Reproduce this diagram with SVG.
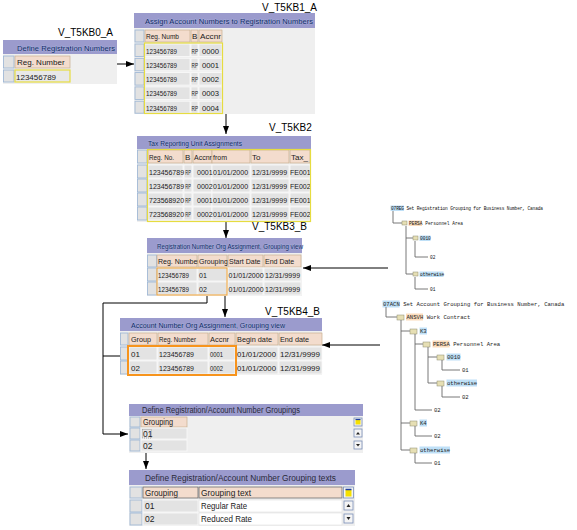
<svg xmlns="http://www.w3.org/2000/svg" width="577" height="530" viewBox="0 0 577 530">
<defs>
<marker id="ah" markerWidth="8" markerHeight="6" refX="8" refY="3" orient="auto" markerUnits="userSpaceOnUse"><path d="M0,0 L8,3 L0,6 z" fill="#000"/></marker>
<style>
.tt{fill:#9b9bcd}
.ttx{font-family:"Liberation Sans",Arial,sans-serif;font-size:8px;fill:#0c2260;stroke:#bcd0f0;stroke-width:0.35;paint-order:stroke}
.ttg{font-family:"Liberation Sans",Arial,sans-serif;font-size:8.5px;fill:#2a2a3a}
.bg{fill:#efefef}
.sel{fill:#e2e2e2;stroke:#9ab4d4;stroke-width:0.8}
.hd{fill:#f3dccd;stroke:#c8b090;stroke-width:0.7}
.hd2{fill:#f3dccd;stroke:#6e6e6e;stroke-width:0.8}
.dc{fill:#e3e3e3;stroke:#fafafa;stroke-width:0.8}
.wc{fill:#ffffff;stroke:#e0e0e0;stroke-width:0.6}
.tx{font-family:"Liberation Sans",Arial,sans-serif;font-size:8px;fill:#1a1a1a}
.t7{font-family:"Liberation Sans",Arial,sans-serif;font-size:7px;fill:#1a1a1a}
.tx2{font-family:"Liberation Sans",Arial,sans-serif;font-size:8.5px;fill:#222}
.lbl{font-family:"Liberation Sans",Arial,sans-serif;font-size:10px;fill:#000}
.conn{stroke:#000;stroke-width:1;fill:none}
.tl{stroke:#6a6a6a;stroke-width:0.9;fill:none}
.m1{font-family:"Liberation Mono",monospace;font-size:4.5px;fill:#111}
.m2{font-family:"Liberation Mono",monospace;font-size:5.6px;fill:#222}
.hb{fill:#bfe0f7}
.hp{fill:#fbdcbc}
.ic{fill:#e6dfb4;stroke:#8c8a70;stroke-width:0.5}
.btn{fill:#f4f4f4;stroke:#7a8fb8;stroke-width:0.8}
.yb{fill:none;stroke:#e6dc40;stroke-width:1.2}
</style>
</defs>

<g id="connectors">
<line class="conn" x1="117" y1="64" x2="134" y2="64" marker-end="url(#ah)"/>
<line class="conn" x1="226" y1="114" x2="226" y2="134" marker-end="url(#ah)"/>
<line class="conn" x1="226" y1="222" x2="226" y2="238" marker-end="url(#ah)"/>
<line class="conn" x1="388" y1="268" x2="303" y2="268" stroke="#666" marker-end="url(#ah)"/>
<line class="conn" x1="225" y1="296" x2="225" y2="317" marker-end="url(#ah)"/>
<path class="conn" d="M207,296 V303 H103 V434 H128" marker-end="url(#ah)"/>
<line class="conn" x1="103" y1="356" x2="120" y2="356"/>
<line class="conn" x1="380" y1="345" x2="322" y2="345" marker-end="url(#ah)"/>
<line class="conn" x1="146" y1="452" x2="146" y2="469" marker-end="url(#ah)"/>
</g>

<g id="V_T5KB0_A">
<text class="lbl" x="58" y="36">V_T5KB0_A</text>
<rect class="tt" x="3" y="40" width="114" height="14"/>
<text class="ttx" x="17" y="50.5" textLength="98" lengthAdjust="spacingAndGlyphs">Define Registration Numbers</text>
<rect class="bg" x="3" y="54" width="114" height="30"/>
<rect class="sel" x="3.5" y="56" width="10.5" height="12"/>
<rect class="sel" x="3.5" y="70" width="10.5" height="12"/>
<rect class="hd" x="15" y="56" width="55" height="12" stroke="#e0b060"/>
<text class="tx" x="17" y="65">Reg. Number</text>
<rect x="15" y="70" width="55" height="12" fill="#e8e8e8" stroke="#e6dc40" stroke-width="1.2"/>
<text class="tx" x="16" y="79.5">123456789</text>
</g>

<g id="V_T5KB1_A">
<text class="lbl" x="262" y="11">V_T5KB1_A</text>
<rect class="tt" x="134" y="13" width="181" height="15"/>
<text class="ttx" x="145" y="24" textLength="168" lengthAdjust="spacingAndGlyphs">Assign Account Numbers to Registration Numbers</text>
<rect class="bg" x="134" y="28" width="181" height="86"/>
<rect class="sel" x="135" y="30" width="9" height="12"/>
<rect class="hd" x="145" y="30" width="45" height="12"/><text class="tx" x="146" y="39" textLength="33" lengthAdjust="spacingAndGlyphs">Reg. Numb</text>
<rect class="hd" x="191" y="30" width="7" height="12"/><text class="tx" x="192" y="39">B</text>
<rect class="hd" x="199" y="30" width="23" height="12"/><text class="tx" x="200" y="39" textLength="21" lengthAdjust="spacingAndGlyphs">Accnr</text>
<g>
<rect class="sel" x="135" y="44" width="9" height="12.5"/><rect class="dc" x="145" y="44" width="45" height="12.5"/><rect class="dc" x="191" y="44" width="7" height="12.5"/><rect class="dc" x="199" y="44" width="23" height="12.5"/>
<text class="tx" x="146" y="53.5" textLength="31" lengthAdjust="spacingAndGlyphs">123456789</text><text class="t7" x="191.5" y="53.5" textLength="6.5" lengthAdjust="spacingAndGlyphs">RP</text><text class="tx" x="202" y="53.5" textLength="17" lengthAdjust="spacingAndGlyphs">0000</text>
<rect class="sel" x="135" y="58.3" width="9" height="12.5"/><rect class="dc" x="145" y="58.3" width="45" height="12.5"/><rect class="dc" x="191" y="58.3" width="7" height="12.5"/><rect class="dc" x="199" y="58.3" width="23" height="12.5"/>
<text class="tx" x="146" y="67.8" textLength="31" lengthAdjust="spacingAndGlyphs">123456789</text><text class="t7" x="191.5" y="67.8" textLength="6.5" lengthAdjust="spacingAndGlyphs">RP</text><text class="tx" x="202" y="67.8" textLength="17" lengthAdjust="spacingAndGlyphs">0001</text>
<rect class="sel" x="135" y="72.6" width="9" height="12.5"/><rect class="dc" x="145" y="72.6" width="45" height="12.5"/><rect class="dc" x="191" y="72.6" width="7" height="12.5"/><rect class="dc" x="199" y="72.6" width="23" height="12.5"/>
<text class="tx" x="146" y="82.1" textLength="31" lengthAdjust="spacingAndGlyphs">123456789</text><text class="t7" x="191.5" y="82.1" textLength="6.5" lengthAdjust="spacingAndGlyphs">RP</text><text class="tx" x="202" y="82.1" textLength="17" lengthAdjust="spacingAndGlyphs">0002</text>
<rect class="sel" x="135" y="86.9" width="9" height="12.5"/><rect class="dc" x="145" y="86.9" width="45" height="12.5"/><rect class="dc" x="191" y="86.9" width="7" height="12.5"/><rect class="dc" x="199" y="86.9" width="23" height="12.5"/>
<text class="tx" x="146" y="96.4" textLength="31" lengthAdjust="spacingAndGlyphs">123456789</text><text class="t7" x="191.5" y="96.4" textLength="6.5" lengthAdjust="spacingAndGlyphs">RP</text><text class="tx" x="202" y="96.4" textLength="17" lengthAdjust="spacingAndGlyphs">0003</text>
<rect class="sel" x="135" y="101.2" width="9" height="12"/><rect class="dc" x="145" y="101.2" width="45" height="12"/><rect class="dc" x="191" y="101.2" width="7" height="12"/><rect class="dc" x="199" y="101.2" width="23" height="12"/>
<text class="tx" x="146" y="110.5" textLength="31" lengthAdjust="spacingAndGlyphs">123456789</text><text class="t7" x="191.5" y="110.5" textLength="6.5" lengthAdjust="spacingAndGlyphs">RP</text><text class="tx" x="202" y="110.5" textLength="17" lengthAdjust="spacingAndGlyphs">0004</text>
</g>
<rect class="yb" x="144.5" y="43" width="78" height="70.5"/>
</g>

<g id="V_T5KB2">
<text class="lbl" x="269" y="131">V_T5KB2</text>
<rect class="tt" x="137" y="136" width="174" height="13"/>
<text class="ttx" x="148" y="145.5" textLength="94" lengthAdjust="spacingAndGlyphs">Tax Reporting Unit Assignments</text>
<rect class="bg" x="137" y="149" width="174" height="73"/>
<rect class="sel" x="137.5" y="150" width="9.5" height="13"/>
<rect class="hd" x="148" y="150" width="35" height="13"/><text class="tx" x="149" y="159.5" textLength="25" lengthAdjust="spacingAndGlyphs">Reg. No.</text>
<rect class="hd" x="184" y="150" width="8" height="13"/><text class="tx" x="185" y="159.5">B</text>
<rect class="hd" x="193" y="150" width="19" height="13"/><text class="t7" x="194" y="159.5">Accnr</text>
<rect class="hd" x="212" y="150" width="38" height="13"/><text class="tx" x="213" y="159.5" textLength="14" lengthAdjust="spacingAndGlyphs">from</text>
<rect class="hd" x="251" y="150" width="38" height="13"/><text class="tx" x="252" y="159.5">To</text>
<rect class="hd" x="290" y="150" width="20" height="13"/><text class="tx" x="291" y="159.5" textLength="17" lengthAdjust="spacingAndGlyphs">Tax_</text>
<g>
<rect class="sel" x="137.5" y="165" width="9.5" height="13"/><rect class="dc" x="148" y="165" width="35" height="13"/><rect class="dc" x="184" y="165" width="8" height="13"/><rect class="dc" x="193" y="165" width="19" height="13"/><rect class="dc" x="212" y="165" width="38" height="13"/><rect class="dc" x="251" y="165" width="38" height="13"/><rect class="dc" x="290" y="165" width="20" height="13"/>
<text class="t7" x="149" y="174.5">123456789</text><text class="t7" x="185.3" y="174.5" textLength="5.5" lengthAdjust="spacingAndGlyphs">RP</text><text class="t7" x="197" y="174.5">0001</text><text class="t7" x="213" y="174.5">01/01/2000</text><text class="t7" x="252" y="174.5">12/31/9999</text><text class="t7" x="290" y="174.5">FE001</text>
<rect class="sel" x="137.5" y="179" width="9.5" height="13"/><rect class="dc" x="148" y="179" width="35" height="13"/><rect class="dc" x="184" y="179" width="8" height="13"/><rect class="dc" x="193" y="179" width="19" height="13"/><rect class="dc" x="212" y="179" width="38" height="13"/><rect class="dc" x="251" y="179" width="38" height="13"/><rect class="dc" x="290" y="179" width="20" height="13"/>
<text class="t7" x="149" y="188.5">123456789</text><text class="t7" x="185.3" y="188.5" textLength="5.5" lengthAdjust="spacingAndGlyphs">RP</text><text class="t7" x="197" y="188.5">0002</text><text class="t7" x="213" y="188.5">01/01/2000</text><text class="t7" x="252" y="188.5">12/31/9999</text><text class="t7" x="290" y="188.5">FE002</text>
<rect class="sel" x="137.5" y="193" width="9.5" height="13"/><rect class="dc" x="148" y="193" width="35" height="13"/><rect class="dc" x="184" y="193" width="8" height="13"/><rect class="dc" x="193" y="193" width="19" height="13"/><rect class="dc" x="212" y="193" width="38" height="13"/><rect class="dc" x="251" y="193" width="38" height="13"/><rect class="dc" x="290" y="193" width="20" height="13"/>
<text class="t7" x="149" y="202.5">723568920</text><text class="t7" x="185.3" y="202.5" textLength="5.5" lengthAdjust="spacingAndGlyphs">RP</text><text class="t7" x="197" y="202.5">0001</text><text class="t7" x="213" y="202.5">01/01/2000</text><text class="t7" x="252" y="202.5">12/31/9999</text><text class="t7" x="290" y="202.5">FE001</text>
<rect class="sel" x="137.5" y="207" width="9.5" height="13"/><rect class="dc" x="148" y="207" width="35" height="13"/><rect class="dc" x="184" y="207" width="8" height="13"/><rect class="dc" x="193" y="207" width="19" height="13"/><rect class="dc" x="212" y="207" width="38" height="13"/><rect class="dc" x="251" y="207" width="38" height="13"/><rect class="dc" x="290" y="207" width="20" height="13"/>
<text class="t7" x="149" y="216.5">723568920</text><text class="t7" x="185.3" y="216.5" textLength="5.5" lengthAdjust="spacingAndGlyphs">RP</text><text class="t7" x="197" y="216.5">0002</text><text class="t7" x="213" y="216.5">01/01/2000</text><text class="t7" x="252" y="216.5">12/31/9999</text><text class="t7" x="290" y="216.5">FE002</text>
</g>
<rect class="yb" x="147.5" y="149.5" width="163" height="72"/>
</g>

<g id="V_T5KB3_B">
<text class="lbl" x="252" y="230">V_T5KB3_B</text>
<rect class="tt" x="147" y="238" width="155" height="15"/>
<text class="ttx" x="157" y="248.5" textLength="146" lengthAdjust="spacingAndGlyphs">Registration Number Org Assignment, Grouping view</text>
<rect class="bg" x="147" y="253" width="155" height="43"/>
<rect class="sel" x="147.5" y="255" width="9" height="12"/>
<rect class="hd" x="157" y="255" width="40" height="12"/><text class="t7" x="158" y="264" font-size="6.5">Reg. Number</text>
<rect class="hd" x="198" y="255" width="29" height="12"/><text class="t7" x="199" y="264">Grouping</text>
<rect class="hd" x="228" y="255" width="35" height="12"/><text class="t7" x="229" y="264">Start Date</text>
<rect class="hd" x="264" y="255" width="37" height="12"/><text class="t7" x="265" y="264">End Date</text>
<rect class="sel" x="147.5" y="268" width="9" height="13"/><rect class="dc" x="157" y="268" width="40" height="13"/><rect class="dc" x="198" y="268" width="29" height="13"/><rect class="dc" x="228" y="268" width="35" height="13"/><rect class="dc" x="264" y="268" width="37" height="13"/>
<text class="t7" x="158" y="277.5" textLength="31" lengthAdjust="spacingAndGlyphs">123456789</text><text class="t7" x="199" y="277.5">01</text><text class="t7" x="228.5" y="277.5">01/01/2000</text><text class="t7" x="265" y="277.5">12/31/9999</text>
<rect class="sel" x="147.5" y="282" width="9" height="13"/><rect class="dc" x="157" y="282" width="40" height="13"/><rect class="dc" x="198" y="282" width="29" height="13"/><rect class="dc" x="228" y="282" width="35" height="13"/><rect class="dc" x="264" y="282" width="37" height="13"/>
<text class="t7" x="158" y="291.5" textLength="31" lengthAdjust="spacingAndGlyphs">123456789</text><text class="t7" x="199" y="291.5">02</text><text class="t7" x="228.5" y="291.5">01/01/2000</text><text class="t7" x="265" y="291.5">12/31/9999</text>
<rect x="157" y="268" width="70" height="27" fill="none" stroke="#f0a030" stroke-width="1"/>
</g>

<g id="V_T5KB4_B">
<text class="lbl" x="265" y="315">V_T5KB4_B</text>
<rect class="tt" x="120" y="318" width="202" height="13"/>
<text class="ttx" x="131" y="327.5" textLength="154" lengthAdjust="spacingAndGlyphs">Account Number Org Assignment, Grouping view</text>
<rect class="bg" x="120" y="331" width="202" height="44"/>
<rect class="sel" x="120.5" y="333" width="7.5" height="12"/>
<rect class="hd" x="129" y="333" width="28" height="12"/><text class="tx" x="131" y="342" textLength="20" lengthAdjust="spacingAndGlyphs">Group</text>
<rect class="hd" x="158" y="333" width="50" height="12"/><text class="tx" x="159" y="342" textLength="37" lengthAdjust="spacingAndGlyphs">Reg. Number</text>
<rect class="hd" x="209" y="333" width="26" height="12"/><text class="tx" x="210" y="342" textLength="19" lengthAdjust="spacingAndGlyphs">Accnr</text>
<rect class="hd" x="236" y="333" width="42" height="12"/><text class="tx" x="237" y="342" textLength="35" lengthAdjust="spacingAndGlyphs">Begin date</text>
<rect class="hd" x="279" y="333" width="43" height="12"/><text class="tx" x="280" y="342" textLength="29" lengthAdjust="spacingAndGlyphs">End date</text>
<rect class="sel" x="120.5" y="347" width="7.5" height="13"/><rect class="dc" x="129" y="347" width="28" height="13"/><rect class="dc" x="158" y="347" width="50" height="13"/><rect class="dc" x="209" y="347" width="26" height="13"/><rect class="dc" x="236" y="347" width="42" height="13"/><rect class="dc" x="279" y="347" width="43" height="13"/>
<text class="tx" x="131" y="356.5">01</text><text class="tx" x="159" y="356.5" textLength="35" lengthAdjust="spacingAndGlyphs">123456789</text><text class="tx" x="210" y="356.5" textLength="13" lengthAdjust="spacingAndGlyphs">0001</text><text class="tx" x="237" y="356.5" textLength="39" lengthAdjust="spacingAndGlyphs">01/01/2000</text><text class="tx" x="280" y="356.5" textLength="40" lengthAdjust="spacingAndGlyphs">12/31/9999</text>
<rect class="sel" x="120.5" y="361" width="7.5" height="13"/><rect class="dc" x="129" y="361" width="28" height="13"/><rect class="dc" x="158" y="361" width="50" height="13"/><rect class="dc" x="209" y="361" width="26" height="13"/><rect class="dc" x="236" y="361" width="42" height="13"/><rect class="dc" x="279" y="361" width="43" height="13"/>
<text class="tx" x="131" y="370.5">02</text><text class="tx" x="159" y="370.5" textLength="35" lengthAdjust="spacingAndGlyphs">123456789</text><text class="tx" x="210" y="370.5" textLength="13" lengthAdjust="spacingAndGlyphs">0002</text><text class="tx" x="237" y="370.5" textLength="39" lengthAdjust="spacingAndGlyphs">01/01/2000</text><text class="tx" x="280" y="370.5" textLength="40" lengthAdjust="spacingAndGlyphs">12/31/9999</text>
<rect x="128" y="346" width="108" height="29" fill="none" stroke="#f7941d" stroke-width="2"/>
</g>

<g id="groupings">
<rect class="tt" x="129" y="404" width="234" height="12"/>
<text class="ttg" x="142" y="413" textLength="158" lengthAdjust="spacingAndGlyphs">Define Registration/Account Number Groupings</text>
<rect class="bg" x="129" y="416" width="234" height="37"/>
<rect class="sel" x="130" y="417" width="10" height="10"/>
<rect class="hd" x="141" y="417" width="46" height="10"/><text class="tx2" x="143" y="425" textLength="30" lengthAdjust="spacingAndGlyphs">Grouping</text>
<rect class="sel" x="130" y="428" width="10" height="11"/><rect class="dc" x="141" y="428" width="46" height="11"/>
<rect x="142.5" y="429.5" width="9" height="8.5" fill="none" stroke="#777" stroke-width="0.6" stroke-dasharray="1,1"/>
<text class="tx2" x="143" y="436.5">01</text>
<rect class="sel" x="130" y="440" width="10" height="11"/><rect class="dc" x="141" y="440" width="46" height="11"/>
<text class="tx2" x="143" y="448.5">02</text>
<rect class="btn" x="354" y="418" width="8" height="8"/><rect x="355.5" y="419.5" width="5" height="5" fill="#f5e000"/><line x1="355.5" y1="419.5" x2="360.5" y2="419.5" stroke="#2040a0" stroke-width="1.2"/>
<rect class="btn" x="354" y="429" width="8" height="8"/><polygon points="356,434.5 358,432 360,434.5" fill="#222"/>
<rect class="btn" x="354" y="441" width="8" height="8"/><polygon points="356,444 358,446.5 360,444" fill="#222"/>
</g>

<g id="grouping_texts">
<rect class="tt" x="129" y="470" width="226" height="15"/>
<text class="ttg" x="145" y="481" font-size="9" textLength="191" lengthAdjust="spacingAndGlyphs">Define Registration/Account Number Grouping texts</text>
<rect class="bg" x="129" y="485" width="226" height="41"/>
<rect class="sel" x="130" y="487" width="12" height="11"/>
<rect class="hd2" x="143" y="487" width="55" height="11"/><text class="tx2" x="145" y="495.5" textLength="33" lengthAdjust="spacingAndGlyphs">Grouping</text>
<rect class="hd2" x="199" y="487" width="143" height="11"/><text class="tx2" x="201" y="495.5" textLength="50" lengthAdjust="spacingAndGlyphs">Grouping text</text>
<rect class="sel" x="130" y="500" width="12" height="12"/><rect class="dc" x="143" y="500" width="55" height="12"/><rect class="wc" x="199" y="500" width="143" height="12"/>
<text class="tx2" x="145" y="509">01</text><text class="tx2" x="201" y="509" textLength="46" lengthAdjust="spacingAndGlyphs">Regular Rate</text>
<rect class="sel" x="130" y="513" width="12" height="12"/><rect class="dc" x="143" y="513" width="55" height="12"/><rect class="wc" x="199" y="513" width="143" height="12"/>
<text class="tx2" x="145" y="522">02</text><text class="tx2" x="201" y="522" textLength="51" lengthAdjust="spacingAndGlyphs">Reduced Rate</text>
<rect class="btn" x="343.5" y="487" width="10" height="11"/><rect x="345.5" y="489.5" width="6" height="7" fill="#f5e000"/><line x1="345.5" y1="489.5" x2="351.5" y2="489.5" stroke="#2040a0" stroke-width="1.5"/>
<rect class="btn" x="344" y="501" width="9" height="9"/><polygon points="346.5,507 348.5,504 350.5,507" fill="#222"/>
<rect class="btn" x="344" y="514" width="9" height="9"/><polygon points="346.5,517 348.5,520 350.5,517" fill="#222"/>
</g>

<g id="tree_07REG">
<rect class="hb" x="390.5" y="205.5" width="13.5" height="5.5"/>
<text class="m1" x="391" y="209.6" textLength="152">07REG Set Registration Grouping for Business Number, Canada</text>
<path class="tl" d="M393,211 V223 H402"/>
<rect class="ic" x="402" y="221" width="5" height="4"/>
<rect class="hp" x="408.5" y="220.5" width="13.5" height="5.5"/>
<text class="m1" x="409" y="224.6">PERSA Personnel Area</text>
<path class="tl" d="M406,226 V274 H413 M406,238 H413"/>
<rect class="ic" x="413" y="236" width="5" height="4"/>
<rect class="hb" x="419.5" y="235.5" width="11" height="5.5"/>
<text class="m1" x="420" y="239.6">0010</text>
<path class="tl" d="M415,241 V257 H428"/>
<text class="m1" x="430" y="258.6">02</text>
<rect class="ic" x="413" y="272" width="5" height="4"/>
<rect class="hb" x="419.5" y="271.5" width="24" height="5.5"/>
<text class="m1" x="420" y="275.6">otherwise</text>
<path class="tl" d="M415,277 V289 H428"/>
<text class="m1" x="430" y="290.6">01</text>
</g>

<g id="tree_07ACN">
<rect class="hb" x="382.5" y="300.5" width="17" height="7"/>
<text class="m2" x="383" y="305.8">07ACN Set Account Grouping for Business Number, Canada</text>
<path class="tl" d="M386,307 V317 H397"/>
<rect class="ic" x="397" y="315" width="7" height="5"/>
<rect class="hp" x="406" y="313.5" width="17" height="7"/>
<text class="m2" x="406.5" y="318.8">ANSVH Work Contract</text>
<path class="tl" d="M401,320 V450 H410 M401,331 H410 M401,423 H410"/>
<rect class="ic" x="410" y="329" width="7" height="5"/>
<rect class="hb" x="419.5" y="327.5" width="7.5" height="7"/>
<text class="m2" x="420" y="332.8">K3</text>
<path class="tl" d="M415,334 V410 H432 M415,344 H423"/>
<rect class="ic" x="423" y="342" width="7" height="5"/>
<rect class="hp" x="432.5" y="340.5" width="17" height="7"/>
<text class="m2" x="433" y="345.8">PERSA Personnel Area</text>
<path class="tl" d="M428,347 V383 H437 M428,357 H437"/>
<rect class="ic" x="437" y="355" width="7" height="5"/>
<rect class="hb" x="446.5" y="353.5" width="14" height="7"/>
<text class="m2" x="447" y="358.8">0010</text>
<path class="tl" d="M442,360 V370 H460"/>
<text class="m2" x="462" y="371.8">01</text>
<rect class="ic" x="437" y="381" width="7" height="5"/>
<rect class="hb" x="446.5" y="379.5" width="30.5" height="7"/>
<text class="m2" x="447" y="384.8">otherwise</text>
<path class="tl" d="M442,386 V397 H460"/>
<text class="m2" x="462" y="398.8">02</text>
<text class="m2" x="434" y="411.8">02</text>
<rect class="ic" x="410" y="421" width="7" height="5"/>
<rect class="hb" x="419.5" y="419.5" width="7.5" height="7"/>
<text class="m2" x="420" y="424.8">K4</text>
<path class="tl" d="M415,426 V436 H432"/>
<text class="m2" x="434" y="437.8">02</text>
<rect class="ic" x="410" y="448" width="7" height="5"/>
<rect class="hb" x="419.5" y="446.5" width="30.5" height="7"/>
<text class="m2" x="420" y="451.8">otherwise</text>
<path class="tl" d="M415,453 V463 H432"/>
<text class="m2" x="434" y="464.8">01</text>
</g>
</svg>
